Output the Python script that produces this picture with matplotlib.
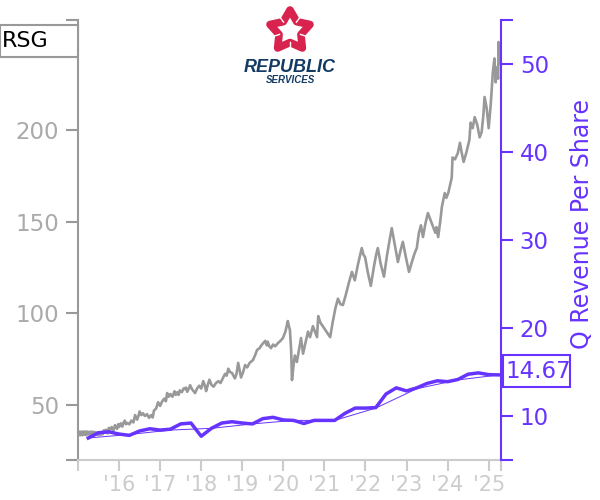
import numpy as np
from matplotlib import pyplot as plt
from matplotlib.patches import Polygon

# values
price_dates = [2015.00, 2015.03, 2015.05, 2015.08, 2015.10, 2015.13, 2015.15, 2015.18, 2015.20, 2015.23,
               2015.25, 2015.28, 2015.30, 2015.33, 2015.35, 2015.38, 2015.40, 2015.43, 2015.45, 2015.48,
               2015.50, 2015.53, 2015.55, 2015.58, 2015.60, 2015.63, 2015.65, 2015.68, 2015.72, 2015.75,
               2015.78, 2015.82, 2015.86, 2015.90, 2015.95, 2015.98, 2016.00, 2016.04, 2016.08, 2016.11,
               2016.14, 2016.17, 2016.20, 2016.25, 2016.30, 2016.35, 2016.39, 2016.44, 2016.47, 2016.50,
               2016.54, 2016.58, 2016.63, 2016.68, 2016.73, 2016.78, 2016.82, 2016.85, 2016.90, 2016.95,
               2017.00, 2017.05, 2017.10, 2017.14, 2017.17, 2017.21, 2017.25, 2017.30, 2017.35, 2017.38,
               2017.42, 2017.45, 2017.48, 2017.53, 2017.57, 2017.60, 2017.63, 2017.66, 2017.70, 2017.73,
               2017.78, 2017.85, 2017.90, 2017.95, 2018.00, 2018.05, 2018.09, 2018.12, 2018.16, 2018.20,
               2018.25, 2018.30, 2018.36, 2018.42, 2018.47, 2018.53, 2018.58, 2018.62, 2018.66, 2018.70,
               2018.75, 2018.82, 2018.86, 2018.90, 2018.97, 2019.02, 2019.07, 2019.12, 2019.18, 2019.26,
               2019.31, 2019.36, 2019.42, 2019.48, 2019.56, 2019.60, 2019.62, 2019.66, 2019.70, 2019.75,
               2019.80, 2019.87, 2019.93, 2019.99, 2020.05, 2020.11, 2020.13, 2020.16, 2020.19, 2020.21,
               2020.25, 2020.28, 2020.33, 2020.38, 2020.43, 2020.48, 2020.54, 2020.60, 2020.65, 2020.72,
               2020.82, 2020.85, 2020.90, 2020.96, 2021.05, 2021.14, 2021.20, 2021.27, 2021.33, 2021.39,
               2021.45, 2021.52, 2021.60, 2021.67, 2021.74, 2021.82, 2021.91, 2021.95, 2021.99, 2022.06,
               2022.13, 2022.21, 2022.26, 2022.30, 2022.37, 2022.45, 2022.52, 2022.58, 2022.64, 2022.70,
               2022.79, 2022.85, 2022.91, 2022.98, 2023.06, 2023.13, 2023.20, 2023.25, 2023.30, 2023.35,
               2023.40, 2023.46, 2023.52, 2023.60, 2023.70, 2023.73, 2023.77, 2023.82, 2023.86, 2023.93,
               2023.97, 2024.02, 2024.10, 2024.12, 2024.18, 2024.25, 2024.30, 2024.34, 2024.39, 2024.46,
               2024.53, 2024.56, 2024.61, 2024.66, 2024.72, 2024.78, 2024.83, 2024.87, 2024.90, 2024.95,
               2025.00, 2025.05, 2025.10, 2025.14, 2025.17, 2025.19, 2025.23, 2025.24, 2025.27, 2025.30]
price_values = [34, 35.5, 33.5, 35.5, 33.5, 35.5, 33.8, 35.6, 33.6, 35.5,
                34, 35.4, 33.5, 35.5, 33.8, 35.4, 33.6, 35.2, 33.8, 35,
                33.5, 35, 33.8, 35.2, 34, 36.2, 35, 36.5, 34.5, 37.5,
                36.5, 38, 35.8, 39, 37, 39.5, 38, 40, 38.2, 40.5,
                41.5, 39.5, 40.2, 39.5, 41.5, 40.5, 44.5, 42, 44, 46.5,
                44.5, 45.5, 44, 45, 43, 44.5, 43.2, 47, 48, 51.5,
                49.5, 52, 53.5, 52, 56.5, 54.5, 56, 54.5, 57.5, 55.5,
                57, 55.5, 58, 57, 59, 58.7, 59.5, 57.2, 59, 60.8,
                58.5, 56.5, 59, 60.5, 59, 63, 60.5, 57.6, 61, 63.8,
                61, 60, 62, 63, 62, 64.7, 67, 66, 69.8, 68,
                67.5, 64.5, 67, 73, 65, 68, 71.8, 70.5, 73, 74.5,
                77, 80, 81, 83, 85, 82.5, 84.5, 82, 81, 83,
                82, 83.8, 85, 86.5, 90, 95.8, 93.5, 91, 80, 63.6,
                72, 77, 73.5, 80, 86.5, 78, 84, 90, 87, 93,
                87, 98.5, 95, 93, 90, 87, 95, 103, 108, 105,
                104.5, 110, 117, 122.6, 118, 127, 135.6, 132, 130.7, 122,
                115, 126, 132, 135.6, 127, 120, 131, 139, 146.5, 139,
                128, 134, 139, 131, 122.6, 128, 133, 135.6, 143.8, 148,
                141.6, 149, 154.7, 150, 144, 147, 141.6, 150, 158, 165.6,
                163, 166, 174, 185, 184, 187.5, 193, 188, 182.6, 188,
                194.6, 204, 201, 207, 203, 196, 199, 208, 218, 212,
                201, 214, 231, 239, 226, 234, 228, 248, 236, 241]

rev_dates = [2015.25, 2015.50, 2015.75, 2016.00, 2016.25, 2016.50, 2016.75, 2017.00, 2017.25, 2017.50,
             2017.75, 2018.00, 2018.25, 2018.50, 2018.75, 2019.00, 2019.25, 2019.50, 2019.75, 2020.00,
             2020.25, 2020.50, 2020.75, 2021.00, 2021.25, 2021.50, 2021.75, 2022.00, 2022.25, 2022.50,
             2022.75, 2023.00, 2023.25, 2023.50, 2023.75, 2024.00, 2024.25, 2024.50, 2024.75, 2025.00,
             2025.25]
rev_values = [7.5, 8.1, 8.2, 7.95, 7.8, 8.3, 8.55, 8.4, 8.5, 9.1,
              9.2, 7.7, 8.6, 9.2, 9.35, 9.2, 9.1, 9.7, 9.85, 9.55,
              9.5, 9.15, 9.5, 9.5, 9.5, 10.3, 10.9, 10.9, 10.95, 12.5,
              13.2, 12.85, 13.2, 13.7, 14.0, 13.9, 14.15, 14.75, 14.9, 14.7,
              14.67]
avg_dates = [2015.25, 2016.25, 2017.25, 2018.25, 2019.25, 2020.25, 2021.25, 2022.25, 2023.25, 2024.25, 2025.25]
avg_values = [7.5, 7.9, 8.4, 8.6, 9.1, 9.5, 9.5, 10.9, 13.1, 14.1, 14.67]

year_ticks = [2015, 2016, 2017, 2018, 2019, 2020, 2021, 2022, 2023, 2024, 2025, 2025.3]
year_labels = ['', "'16", "'17", "'18", "'19", "'20", "'21", "'22", "'23", "'24", "'25", '']
price_ticks = [20, 50, 100, 150, 200, 260]
price_labels = ['', '50', '100', '150', '200', '']
rev_ticks = [5, 10, 20, 30, 40, 50, 55]
rev_labels = ['', '10', '20', '30', '40', '50', '']

purple = '#6633ff'
grey = '#999999'
light = '#cccccc'

fig = plt.figure(figsize=(6, 5), dpi=100)
ax = fig.add_axes([78 / 600, 40 / 500, 423 / 600, 440 / 500])
ax.plot(price_dates, price_values, color=grey, lw=1.9)
ax.set_xlim(2015, 2025.3)
ax.set_ylim(20, 260)
ax.set_xticks(year_ticks)
ax.set_xticklabels(year_labels)
ax.set_yticks(price_ticks)
ax.set_yticklabels(price_labels)
ax.tick_params(axis='x', colors=light, length=8, width=1.5, labelsize=15, pad=3)
ax.tick_params(axis='y', colors='#aaaaaa', length=8.5, width=1.5, labelsize=16.5, pad=5, color=grey)
for side in ['top', 'right']:
    ax.spines[side].set_visible(False)
ax.spines['left'].set_color(grey)
ax.spines['left'].set_linewidth(1.5)
ax.spines['bottom'].set_color(light)
ax.spines['bottom'].set_linewidth(1.5)

ax2 = ax.twinx()
ax2.plot(avg_dates, avg_values, color=purple, lw=0.7)
ax2.plot(rev_dates, rev_values, color=purple, lw=2.5)
ax2.set_ylim(5, 55)
ax2.set_yticks(rev_ticks)
ax2.set_yticklabels(rev_labels)
ax2.tick_params(axis='y', colors=purple, length=8.5, width=1.5, labelsize=16.5, pad=5)
for side in ['top', 'left', 'bottom']:
    ax2.spines[side].set_visible(False)
ax2.spines['right'].set_color(purple)
ax2.spines['right'].set_linewidth(1.5)

fig.text(582 / 600, 1 - 224 / 500, 'Q Revenue Per Share', color=purple, fontsize=17,
         rotation=90, ha='center', va='center')

# ticker box and last value box
fig.patches.append(plt.Rectangle((0, 1 - 57 / 500), 78 / 600, 32 / 500, transform=fig.transFigure,
                                 fc='white', ec=grey, lw=1.5, zorder=5))
fig.text(2 / 600, 1 - 41 / 500, 'RSG', color='black', fontsize=16, va='center', zorder=6)
fig.patches.append(plt.Rectangle((503 / 600, 1 - 387 / 500), 67 / 600, 32 / 500, transform=fig.transFigure,
                                 fc='white', ec=purple, lw=1.5, zorder=5))
fig.text(505 / 600, 1 - 371 / 500, '14.67', color=purple, fontsize=16.5, va='center', zorder=6)

# logo, pixel coordinates
logo = fig.add_axes([0, 0, 1, 1], facecolor='none')
logo.set_xlim(0, 600)
logo.set_ylim(500, 0)
logo.axis('off')
angles = np.radians(-90 + 36 * np.arange(10))
radii = np.array([21, 11.5] * 5)
star_x = 290 + radii * np.cos(angles)
star_y = 31 + radii * np.sin(angles)
logo.add_patch(Polygon(np.column_stack([star_x, star_y]), closed=True, fc='white', ec='#d8234f',
                       lw=5.5, joinstyle='round'))
# white cuts between the ribbons
for a in angles[1::2]:
    logo.plot([290 + 11 * np.cos(a), 290 + 21 * np.cos(a)], [31 + 11 * np.sin(a), 31 + 21 * np.sin(a)],
              color='white', lw=1)
logo.text(290, 68, 'REPUBLIC', color='#123a63', fontsize=13, fontweight='bold', style='italic',
          family='Liberation Sans', ha='center', va='center')
logo.text(290, 80, 'SERVICES', color='#123a63', fontsize=7, fontweight='bold', style='italic',
          family='Liberation Sans', ha='center', va='center')

fig.savefig('out.png', dpi=100)
